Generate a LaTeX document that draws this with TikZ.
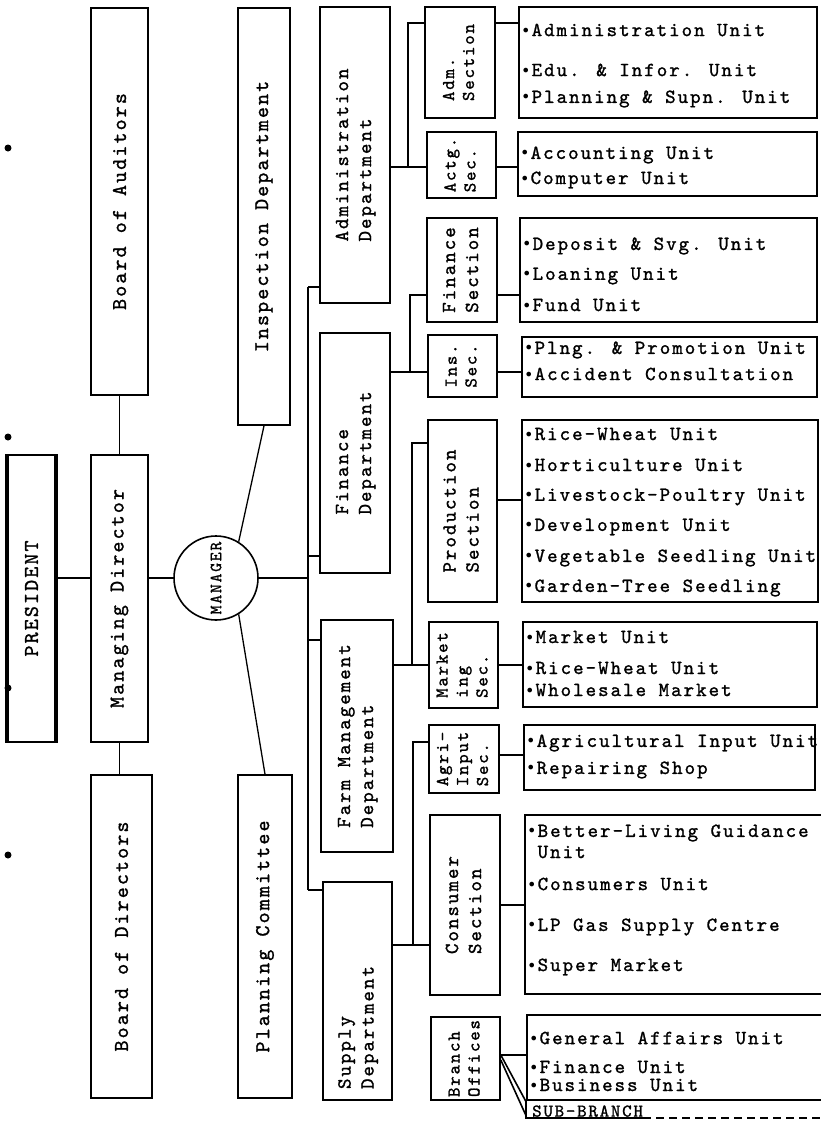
\documentclass[tikz,border=0pt]{standalone}
\usepackage{fontspec}
\usepackage{graphicx}
\newfontfamily\tw{lmmono10-regular.otf}[LetterSpace=10,FakeBold=1.2]
\newfontfamily\dv{DejaVu Sans}
\newcommand\bul{{\dv\fontsize{16}{16}\selectfont •}\hspace{1pt}}
\newcommand\vt[1]{\rotatebox{90}{#1}}
\newcommand\vtab[1]{\rotatebox{90}{\begin{tabular}{@{}l@{}}#1\end{tabular}}}
\newcommand\vtabb[2]{\rotatebox{90}{\makebox[#1][l]{\begin{tabular}{@{}l@{}}#2\end{tabular}}}}
% \bx{name}{style}{x1}{y1}{x2}{y2}{text}
\newcommand\bx[7]{\node[bxs,#2,minimum width={#5pt-#3pt},minimum height={#6pt-#4pt}] (#1) at ({(#3+#5)/2},{(#4+#6)/2}) {#7};}
\tikzset{
  bxs/.style={draw, line width=1.6pt, inner sep=0pt},
  f21/.style={font=\tw\fontsize{21}{24}\selectfont},
  f20/.style={font=\tw\fontsize{20}{23}\selectfont},
  f18/.style={font=\tw\fontsize{18}{20}\selectfont},
  ul/.style={f20, anchor=west, inner sep=0pt},
  conn/.style={line width=1.6pt},
  thin conn/.style={line width=1.3pt},
}
\begin{document}
\begin{tikzpicture}[x=1pt,y=-1pt]
\useasboundingbox (0,0) rectangle (821,1122);
\fill[white] (0,0) rectangle (821,1122);
\clip (0,0) rectangle (821,1122);

% scan dots
\fill (8,148) circle (3.5pt);
\fill (8,437) circle (3.5pt);
\fill (8,688) circle (3.5pt);
\fill (8,855) circle (3.5pt);

% left columns
\bx{pres}{f21}{8}{455}{55}{742}{\vt{PRESIDENT}}
\draw[line width=4pt] (pres.north west) -- (pres.south west);
\draw[line width=4pt] (pres.north east) -- (pres.south east);
\bx{aud}{f21}{91}{8}{148}{395}{\vt{Board of Auditors}}
\bx{md}{f21}{91}{455}{148}{742}{\vt{Managing Director}}
\bx{bod}{f21}{91}{775}{152}{1098}{\vt{Board of Directors}}
\node[draw, circle, line width=1.6pt, minimum size=84pt, inner sep=0pt,
      font=\tw\fontsize{17}{19}\selectfont] (mgr) at (216,578) {\vt{MANAGER}};
\bx{insp}{f21}{238}{8}{290}{425}{\vt{Inspection Department}}
\bx{plan}{f21}{238}{775}{292}{1098}{\vt{Planning Committee}}

\draw[conn] (aud.south) -- (md.north);
\draw[conn] (md.south) -- (md.south |- bod.north);
\draw[conn] (pres.east |- mgr) -- (md.west |- mgr);
\draw[conn] (md.east |- mgr) -- (mgr.west);
\draw[thin conn] (mgr.58) -- (insp.south);
\draw[thin conn] (mgr.-58) -- (plan.north);

% departments
\bx{admd}{f20}{320}{7}{390}{303}{\vtab{Administration\\Department}}
\bx{find}{f20}{320}{333}{390}{573}{\vtab{Finance\\Department}}
\bx{farm}{f20}{321}{620}{393}{852}{\vtab{Farm Management\\Department}}
\bx{supd}{f20}{323}{882}{392}{1100}{\vtabb{196pt}{Supply\\Department}}

% main bus
\coordinate (b1) at (308,287);
\coordinate (bf) at (308,556);
\coordinate (bm) at (308,640);
\coordinate (b2) at (308,890);
\draw[conn] (b1) -- (b2);
\draw[conn] (b1) -- (b1 -| admd.west);
\draw[conn] (bf) -- (bf -| find.west);
\draw[conn] (mgr.east) -- (mgr.east -| b1);
\draw[conn] (bm) -- (bm -| farm.west);
\draw[conn] (b2) -- (b2 -| supd.west);

% sections
\bx{sadm}{f18}{425}{7}{495}{118}{\vtab{Adm.\\Section}}
\bx{sact}{f18}{427}{132}{496}{198}{\vtab{Actg.\\Sec.}}
\bx{sfin}{f20}{427}{218}{497}{322}{\vtab{Finance\\Section}}
\bx{sins}{f18}{428}{335}{497}{397}{\vtab{Ins.\\Sec.}}
\bx{sprod}{f20}{428}{420}{497}{602}{\vtab{Production\\Section}}
\bx{smkt}{f18}{429}{622}{498}{708}{\vtab{Market\\ing\\Sec.}}
\bx{sagr}{f18}{429}{725}{499}{793}{\vtab{Agri-\\Input\\Sec.}}
\bx{scon}{f20}{430}{815}{500}{995}{\vtab{Consumer\\Section}}
\bx{sbr}{f18}{431}{1017}{500}{1100}{\vtab{Branch\\Offices}}

% sub buses
\coordinate (a1) at (408,23);  \coordinate (a2) at (408,167);
\coordinate (c1) at (410,295); \coordinate (c2) at (410,372);
\coordinate (d1) at (412,443); \coordinate (d2) at (412,665);
\coordinate (e1) at (413,742); \coordinate (e2) at (413,945);
\draw[conn] (sadm.west |- a1) -- (a1) -- (a2);
\draw[conn] (admd.east |- a2) -- (sact.west |- a2);
\draw[conn] (sfin.west |- c1) -- (c1) -- (c2);
\draw[conn] (find.east |- c2) -- (sins.west |- c2);
\draw[conn] (sprod.west |- d1) -- (d1) -- (d2);
\draw[conn] (farm.east |- d2) -- (smkt.west |- d2);
\draw[conn] (sagr.west |- e1) -- (e1) -- (e2);
\draw[conn] (supd.east |- e2) -- (scon.west |- e2);

% unit boxes
\bx{radm}{}{519}{7}{817}{118}{}
\bx{ract}{}{518}{132}{817}{196}{}
\bx{rfin}{}{520}{218}{817}{322}{}
\bx{rins}{}{522}{337}{817}{397}{}
\bx{rprod}{}{522}{420}{818}{602}{}
\bx{rmkt}{}{523}{622}{817}{707}{}
\bx{ragr}{}{524}{725}{815}{790}{}
\bx{rcon}{}{525}{815}{840}{994}{}
\bx{rbr}{}{527}{1015}{840}{1100}{}

% section -> unit connectors
\draw[conn] (sadm.east |- a1) -- (radm.west |- a1);
\draw[conn] (sact.east |- a2) -- (ract.west |- a2);
\draw[conn] (sfin.east |- c1) -- (rfin.west |- c1);
\draw[conn] (sins.east |- c2) -- (rins.west |- c2);
\draw[conn] (sprod.east |- 0,500) -- (rprod.west |- 0,500);
\draw[conn] (smkt.east |- d2) -- (rmkt.west |- d2);
\draw[conn] (sagr.east |- 0,755) -- (ragr.west |- 0,755);
\draw[conn] (scon.east |- 0,905) -- (rcon.west |- 0,905);
\draw[conn] (sbr.east |- 0,1055) -- (rbr.west |- 0,1055);

% unit texts
\node[ul] (u1) at (521,30) {\bul Administration Unit};
\node[ul] (u2) at (521,70) {\bul Edu. \& Infor. Unit};
\node[ul] (u3) at (521,99) {\bul Planning \& Supn. Unit};
\node[ul] (u4) at (520,155) {\bul Accounting Unit};
\node[ul] (u5) at (520,180) {\bul Computer Unit};
\node[ul] (u6) at (522,246) {\bul Deposit \& Svg. Unit};
\node[ul] (u7) at (522,276) {\bul Loaning Unit};
\node[ul] (u8) at (522,305) {\bul Fund Unit};
\node[ul] (u9) at (524,350) {\bul Plng. \& Promotion Unit};
\node[ul] (u10) at (524,374) {\bul Accident Consultation};
\node[ul] (u11) at (524,434) {\bul Rice-Wheat Unit};
\node[ul] (u12) at (524,465) {\bul Horticulture Unit};
\node[ul] (u13) at (524,497) {\bul Livestock-Poultry Unit};
\node[ul] (u14) at (524,527) {\bul Development Unit};
\node[ul] (u15) at (524,558) {\bul Vegetable Seedling Unit};
\node[ul] (u16) at (524,588) {\bul Garden-Tree Seedling};
\node[ul] (u17) at (525,637) {\bul Market Unit};
\node[ul] (u18) at (525,668) {\bul Rice-Wheat Unit};
\node[ul] (u19) at (525,690) {\bul Wholesale Market};
\node[ul] (u20) at (526,743) {\bul Agricultural Input Unit};
\node[ul] (u21) at (526,770) {\bul Repairing Shop};
\node[ul] (u22) at (527,833) {\bul Better-Living Guidance};
\node[ul] (u23) at (527,852) {\hphantom{\bul}Unit};
\node[ul] (u24) at (527,884) {\bul Consumers Unit};
\node[ul] (u25) at (527,927) {\bul LP Gas Supply Centre};
\node[ul] (u26) at (527,967) {\bul Super Market};
\node[ul] (u27) at (529,1038) {\bul General Affairs Unit};
\node[ul] (u28) at (529,1067) {\bul Finance Unit};
\node[ul] (u29) at (529,1085) {\bul Business Unit};

% sub-branch
\node[ul, f18, anchor=south west] (sub) at (532,1117) {SUB-BRANCH};
\coordinate (sbend) at (821,1118);
\draw[conn] (rbr.south west) -- (rbr.south west |- sbend) -- (sub.south east |- sbend);
\draw[conn, dash pattern=on 8pt off 5pt] (sub.south east |- sbend) -- (sbend);
\draw[line width=1.6pt] (sbr.east |- 0,1055) -- (rbr.west |- 0,1102);
\draw[line width=1.6pt] (sbr.east |- 0,1060) -- (rbr.west |- 0,1116);
\end{tikzpicture}
\end{document}
